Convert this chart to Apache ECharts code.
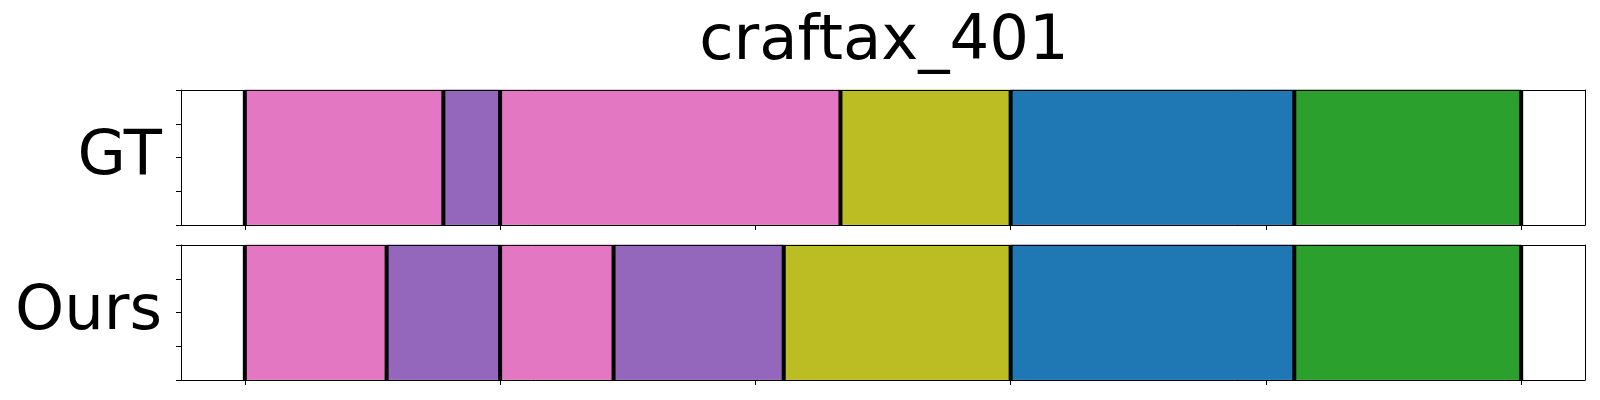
<!DOCTYPE html>
<html>
<head>
<meta charset="utf-8">
<script src="https://cdn.jsdelivr.net/npm/echarts@6/dist/echarts.min.js"></script>
<style>
html,body{margin:0;padding:0;background:#fff;}
#chart{width:1600px;height:400px;}
</style>
</head>
<body>
<div id="chart"></div>
<script>
// Segment data: [start, end, class]
const titleText = 'craftax_401';
const rowLabels = ['GT', 'Ours'];
const gtSegments = [
  [0, 70, 'pink'],
  [70, 90, 'purple'],
  [90, 210, 'pink'],
  [210, 270, 'olive'],
  [270, 370, 'blue'],
  [370, 450, 'green']
];
const oursSegments = [
  [0, 50, 'pink'],
  [50, 90, 'purple'],
  [90, 130, 'pink'],
  [130, 190, 'purple'],
  [190, 270, 'olive'],
  [270, 370, 'blue'],
  [370, 450, 'green']
];
const xTicks = [0, 90, 180, 270, 360, 450];
const yTicks = [0, 0.25, 0.5, 0.75, 1];
const xRange = [-22.5, 472.5];

const palette = {
  pink: '#e377c2',
  purple: '#9467bd',
  olive: '#bcbd22',
  blue: '#1f77b4',
  green: '#2ca02c'
};

const FONT = 'DejaVu Sans';
const grids = [
  {left: 181, top: 90, width: 1404, height: 135},
  {left: 181, top: 245, width: 1404, height: 135}
];

function boundaries(segs) {
  const b = segs.map(s => s[0]);
  b.push(segs[segs.length - 1][1]);
  return b;
}

const xAxes = [];
const yAxes = [];
const series = [];
[gtSegments, oursSegments].forEach((segs, i) => {
  xAxes.push({
    type: 'value', gridIndex: i, min: xRange[0], max: xRange[1],
    position: 'bottom', z: 10,
    axisLine: {show: true, onZero: false, lineStyle: {color: '#000', width: 1}},
    axisTick: {show: true, inside: false, length: 5, lineStyle: {color: '#000', width: 1}, customValues: xTicks},
    axisLabel: {show: false, customValues: xTicks},
    splitLine: {show: false}
  });
  xAxes.push({
    type: 'value', gridIndex: i, min: xRange[0], max: xRange[1],
    position: 'top', z: 10,
    axisLine: {show: true, onZero: false, lineStyle: {color: '#000', width: 1}},
    axisTick: {show: false}, axisLabel: {show: false}, splitLine: {show: false}
  });
  yAxes.push({
    type: 'value', gridIndex: i, min: 0, max: 1,
    position: 'left', z: 10,
    name: rowLabels[i], nameLocation: 'middle', nameRotate: 0, nameGap: 19,
    nameTextStyle: {fontFamily: FONT, fontSize: 62.5, color: '#000', padding: [0, 0, 12, 0]},
    axisLine: {show: true, onZero: false, lineStyle: {color: '#000', width: 1}},
    axisTick: {show: true, inside: false, length: 5, lineStyle: {color: '#000', width: 1}, customValues: yTicks},
    axisLabel: {show: false, customValues: yTicks},
    splitLine: {show: false}
  });
  yAxes.push({
    type: 'value', gridIndex: i, min: 0, max: 1,
    position: 'right', z: 10,
    axisLine: {show: true, onZero: false, lineStyle: {color: '#000', width: 1}},
    axisTick: {show: false}, axisLabel: {show: false}, splitLine: {show: false}
  });

  series.push({
    type: 'custom',
    xAxisIndex: i * 2, yAxisIndex: i * 2,
    data: segs.map(s => [s[0], s[1], s[2]]),
    renderItem: function (params, api) {
      const p0 = api.coord([api.value(0), 1]);
      const p1 = api.coord([api.value(1), 0]);
      const cls = segs[params.dataIndex][2];
      return {
        type: 'rect',
        shape: {x: p0[0], y: p0[1], width: p1[0] - p0[0], height: p1[1] - p0[1]},
        style: {fill: palette[cls], stroke: echarts.color.lift(palette[cls], 0.15), lineWidth: 1}
      };
    },
    z: 2
  });
  series.push({
    type: 'custom',
    xAxisIndex: i * 2, yAxisIndex: i * 2,
    data: boundaries(segs).map(v => [v]),
    renderItem: function (params, api) {
      const a = api.coord([api.value(0), 1]);
      const b = api.coord([api.value(0), 0]);
      return {
        type: 'line',
        shape: {x1: a[0], y1: a[1], x2: b[0], y2: b[1]},
        style: {stroke: '#000', lineWidth: 4}
      };
    },
    z: 3
  });
});

const chart = echarts.init(document.getElementById('chart'), null, {renderer: 'canvas'});
chart.setOption({
  animation: false,
  backgroundColor: '#fff',
  title: {
    text: titleText, left: 879, top: 6, textAlign: 'center',
    textStyle: {fontFamily: FONT, fontSize: 62.5, fontWeight: 'normal', color: '#000'}
  },
  grid: grids,
  xAxis: xAxes,
  yAxis: yAxes,
  series: series
});
</script>
</body>
</html>
